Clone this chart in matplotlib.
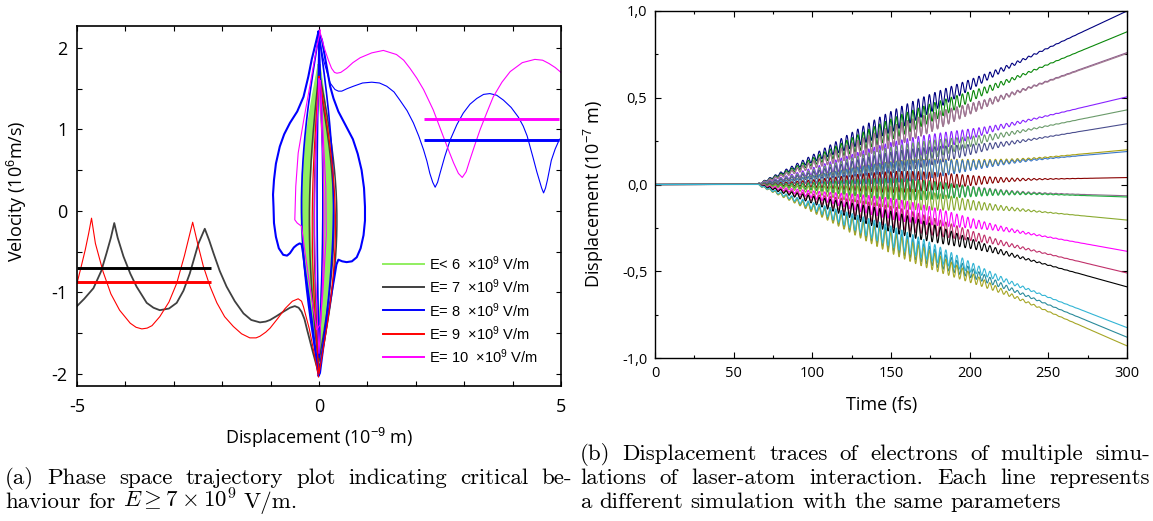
import numpy as np
import matplotlib
matplotlib.use('Agg')
import matplotlib.pyplot as plt
from matplotlib.ticker import MultipleLocator

plt.rcParams['font.family'] = ['Open Sans', 'DejaVu Sans']
plt.rcParams['mathtext.fontset'] = 'custom'
plt.rcParams['mathtext.rm'] = 'Liberation Sans'
plt.rcParams['mathtext.it'] = 'Liberation Sans:italic'
plt.rcParams['mathtext.bf'] = 'Liberation Sans:bold'

W, H = 1153, 521

# ---------------- (a) phase space, x in 1e-9 m, v in 1e6 m/s
black_x = [-5.00, -4.85, -4.66, -4.50, -4.39, -4.30, -4.23, -4.16, -4.04, -3.90, -3.77, -3.56,
           -3.42, -3.29, -3.10, -2.94, -2.80, -2.67, -2.49, -2.36, -2.27, -2.18, -2.05, -1.91,
           -1.74, -1.56, -1.40, -1.22, -1.10, -1.01, -0.87, -0.74, -0.60, -0.50, -0.42, -0.36,
           -0.30, -0.25, -0.12, -0.01]
black_y = [-1.17, -1.08, -0.95, -0.74, -0.52, -0.33, -0.15, -0.33, -0.56, -0.77, -0.93, -1.13,
           -1.19, -1.22, -1.20, -1.13, -0.98, -0.77, -0.40, -0.22, -0.36, -0.52, -0.74, -0.93,
           -1.11, -1.26, -1.34, -1.37, -1.36, -1.34, -1.29, -1.24, -1.19, -1.17, -1.19, -1.24,
           -1.33, -1.45, -1.75, -1.99]

red_x = [-5.00, -4.92, -4.83, -4.76, -4.70, -4.62, -4.46, -4.30, -4.12, -3.90, -3.78, -3.66,
         -3.55, -3.45, -3.29, -3.10, -2.94, -2.78, -2.61, -2.50, -2.39, -2.25, -2.11, -1.95,
         -1.77, -1.60, -1.43, -1.30, -1.22, -1.10, -1.01, -0.85, -0.70, -0.55, -0.43, -0.36,
         -0.32, -0.20, -0.10, -0.01]
red_y = [-0.89, -0.70, -0.48, -0.28, -0.09, -0.40, -0.75, -1.02, -1.22, -1.38, -1.43, -1.45,
         -1.44, -1.41, -1.30, -1.12, -0.89, -0.55, -0.14, -0.42, -0.68, -0.93, -1.13, -1.30,
         -1.42, -1.51, -1.56, -1.56, -1.54, -1.49, -1.44, -1.32, -1.20, -1.11, -1.08, -1.11,
         -1.18, -1.45, -1.75, -2.04]

blue_loop_x = [-0.01, -0.08, -0.15, -0.22, -0.32, -0.45, -0.60, -0.72, -0.81, -0.89, -0.93, -0.95,
               -0.94, -0.93, -0.89, -0.83, -0.74, -0.66, -0.60, -0.52, -0.46, -0.40, -0.36, -0.33,
               -0.29, -0.22, -0.15, -0.08, -0.01, 0.02, 0.09, 0.17, 0.25, 0.33, 0.36, 0.40, 0.48,
               0.57, 0.68, 0.78, 0.86, 0.92, 0.95, 0.95, 0.93, 0.88, 0.80, 0.70, 0.55, 0.40, 0.30,
               0.23, 0.15, 0.06, -0.01]
blue_loop_y = [2.20, 2.03, 1.86, 1.65, 1.40, 1.22, 1.08, 0.94, 0.79, 0.58, 0.38, 0.20,
               0.05, -0.15, -0.32, -0.46, -0.54, -0.55, -0.52, -0.45, -0.42, -0.40, -0.41, -0.52,
               -0.72, -1.02, -1.34, -1.68, -2.03, -1.99, -1.67, -1.34, -1.05, -0.77, -0.66, -0.60,
               -0.62, -0.63, -0.62, -0.57, -0.46, -0.30, -0.12, 0.05, 0.28, 0.50, 0.70, 0.88, 1.05,
               1.22, 1.38, 1.53, 1.80, 2.10, 2.20]

blue_out_x = [-0.01, 0.09, 0.23, 0.33, 0.40, 0.47, 0.58, 0.71, 0.90, 1.09, 1.25, 1.40, 1.55,
              1.67, 1.82, 1.95, 2.06, 2.16, 2.23, 2.29, 2.35, 2.40, 2.45, 2.50, 2.60, 2.71, 2.85,
              2.98, 3.12, 3.26, 3.40, 3.53, 3.67, 3.81, 3.97, 4.12, 4.22, 4.30, 4.42, 4.50, 4.55,
              4.60, 4.64, 4.68, 4.72, 4.80, 4.88, 4.97]
blue_out_y = [2.16, 1.86, 1.57, 1.49, 1.47, 1.47, 1.50, 1.53, 1.57, 1.58, 1.57, 1.53, 1.46,
              1.36, 1.23, 1.08, 0.92, 0.75, 0.61, 0.46, 0.35, 0.29, 0.35, 0.46, 0.67, 0.87, 1.06,
              1.20, 1.31, 1.38, 1.43, 1.44, 1.42, 1.36, 1.27, 1.15, 1.04, 0.92, 0.66, 0.48, 0.38,
              0.28, 0.22, 0.28, 0.38, 0.62, 0.76, 0.88]

mag_out_x = [0.01, 0.12, 0.20, 0.26, 0.32, 0.37, 0.45, 0.57, 0.70, 0.85, 1.09, 1.33, 1.60,
             1.75, 1.88, 2.02, 2.16, 2.36, 2.57, 2.70, 2.78, 2.88, 2.96, 3.04, 3.12, 3.22, 3.33,
             3.47, 3.60, 3.78, 3.95, 4.20, 4.46, 4.62, 4.75, 4.88, 5.00]
mag_out_y = [2.22, 1.98, 1.84, 1.75, 1.70, 1.69, 1.70, 1.75, 1.82, 1.88, 1.94, 1.97, 1.92,
             1.85, 1.75, 1.63, 1.49, 1.24, 0.91, 0.71, 0.59, 0.46, 0.41, 0.48, 0.63, 0.81, 1.00,
             1.21, 1.40, 1.58, 1.71, 1.82, 1.86, 1.85, 1.81, 1.76, 1.70]

mag_in_x = [0.03, -0.05, -0.19, -0.32, -0.43, -0.48, -0.50, -0.45, -0.36, -0.28, -0.17, -0.05,
            0.02, 0.08, 0.15, 0.14, 0.08, 0.03]
mag_in_y = [2.22, 2.00, 1.53, 1.10, 0.71, 0.30, -0.11, -0.15, -0.19, -0.55, -1.00, -1.46,
            -1.40, -1.00, -0.30, 0.30, 1.00, 1.60]

# central lens-shaped orbits: top, bottom, left and right half width
green_top = [1.78, 1.75, 1.72, 1.69, 1.66, 1.63, 1.60, 1.57]
green_bot = [-1.72, -1.69, -1.66, -1.63, -1.60, -1.57, -1.54, -1.50]
green_wl = [0.35, 0.33, 0.31, 0.29, 0.27, 0.25, 0.23, 0.21]
green_wr = [0.27, 0.25, 0.23, 0.21, 0.19, 0.17, 0.15, 0.13]
gray_lens = [(1.72, -1.95, 0.20, 0.37), (1.60, -1.85, 0.10, 0.31)]
blue_lens = [(2.17, -2.02, 0.36, 0.30), (2.10, -1.80, 0.04, 0.08)]
red_lens = [(1.65, -2.00, 0.14, 0.34)]
mag_lens = [(1.62, -1.75, 0.09, 0.10)]

# asymptotic (drift) velocities, thick horizontal lines: level, x start, x end
drift_black = (-0.70, -5.0, -2.24)
drift_red = (-0.88, -5.0, -2.24)
drift_blue = (0.87, 2.17, 4.95)
drift_mag = (1.13, 2.17, 4.95)

legend_labels = [r'E< 6  $\times$10$^{9}$ V/m', r'E= 7  $\times$10$^{9}$ V/m',
                 r'E= 8  $\times$10$^{9}$ V/m', r'E= 9  $\times$10$^{9}$ V/m',
                 r'E= 10  $\times$10$^{9}$ V/m']
legend_colors = ['#90ee60', '#404040', '#0000ff', '#ff0000', '#ff00ff']

a_xticks = [-5, -4, -3, -2, -1, 0, 1, 2, 3, 4, 5]
a_xticklabels = ['-5', '', '', '', '', '0', '', '', '', '', '5']
a_yticks = [-2, -1.5, -1, -0.5, 0, 0.5, 1, 1.5, 2]
a_yticklabels = ['-2', '', '-1', '', '0', '', '1', '', '2']

# ---------------- (b) displacement traces, 1e-7 m at 300 fs
trace_end = [1.00, 0.88, 0.76, 0.755, 0.505, 0.43, 0.35, 0.20, 0.19, 0.04, -0.065, -0.072,
             -0.205, -0.385, -0.51, -0.59, -0.88, -0.93, -0.825]
trace_color = ['#000080', '#0a880a', '#8c5c8c', '#a07890', '#8822ff', '#6a9a6a', '#4a4e8e',
               '#a8a010', '#3c78c8', '#880000', '#8a6a8a', '#20b040', '#8aaa30', '#ff00ff',
               '#c0306a', '#000000', '#2a8a9a', '#a6a626', '#33b5d5']
t_on = 65.0          # fs, start of divergence
pulse_center = 155.0  # fs
pulse_width = 38.0    # fs
quiver = 0.06        # 1e-7 m
laser_period = 3.5   # fs

b_yticks = [-1.0, -0.5, 0.0, 0.5, 1.0]
b_yticklabels = ['-1,0', '-0,5', '0,0', '0,5', '1,0']

cap_a = [(['(a)', 'Phase', 'space', 'trajectory', 'plot', 'indicating', 'critical', 'be-'], True),
         (['haviour', 'for', r'$E \geq 7 \times 10^9$', 'V/m.'], False)]
cap_b = [(['(b)', 'Displacement', 'traces', 'of', 'electrons', 'of', 'multiple', 'simu-'], True),
         (['lations', 'of', 'laser-atom', 'interaction.', 'Each', 'line', 'represents'], True),
         (['a', 'different', 'simulation', 'with', 'the', 'same', 'parameters'], False)]


def lens(top, bottom, wl, wr, n=300):
    u = np.linspace(0, 1, n)
    y = top + (bottom - top) * u
    s = np.sin(np.pi * u)
    return np.concatenate([-wl * s, wr * s[::-1]]), np.concatenate([y, y[::-1]])


fig = plt.figure(figsize=(W / 100, H / 100), dpi=100)

# ================= panel (a)
ax = fig.add_axes([77 / W, 1 - 385.5 / H, 484 / W, 359.5 / H])
for tp, bt, wl, wr in zip(green_top, green_bot, green_wl, green_wr):
    ax.plot(*lens(tp, bt, wl, wr), color=legend_colors[0], lw=2.4)
ax.plot(black_x, black_y, color='#404040', lw=1.3)
for spec in gray_lens:
    ax.plot(*lens(*spec), color='#404040', lw=1.1)
ax.plot(blue_loop_x, blue_loop_y, color='#0000ff', lw=1.5)
for spec in blue_lens:
    ax.plot(*lens(*spec), color='#0000ff', lw=1.2)
ax.plot(blue_out_x, blue_out_y, color='#0000ff', lw=0.8)
ax.plot(red_x, red_y, color='#ff0000', lw=0.8)
for spec in red_lens:
    ax.plot(*lens(*spec), color='#ff0000', lw=0.9)
ax.plot(mag_in_x, mag_in_y, color='#ff00ff', lw=0.8)
for spec in mag_lens:
    ax.plot(*lens(*spec), color='#ff00ff', lw=0.8)
ax.plot(mag_out_x, mag_out_y, color='#ff00ff', lw=0.8)

for lvl, x0, x1, c in [(*drift_black, '#000000'), (*drift_red, '#ff0000'),
                       (*drift_blue, '#0000ff'), (*drift_mag, '#ff00ff')]:
    ax.plot([x0, x1], [lvl, lvl], color=c, lw=2.1, solid_capstyle='butt')

# legend drawn by hand (no frame, matlab style)
for i, (lab, c) in enumerate(zip(legend_labels, legend_colors)):
    yy = 0.338 - i * 0.0645
    ax.plot([0.632, 0.717], [yy, yy], color=c, lw=1.4, transform=ax.transAxes)
    ax.text(0.727, yy, lab, transform=ax.transAxes, va='center', ha='left',
            fontsize=10.5, family=['Liberation Sans', 'DejaVu Sans'])

ax.set_xlim(-5, 5)
ax.set_ylim(-2.145, 2.27)
ax.set_xticks(a_xticks)
ax.set_xticklabels(a_xticklabels)
ax.set_yticks(a_yticks)
ax.set_yticklabels(a_yticklabels)
ax.tick_params(direction='in', top=True, right=True, length=3.6, width=0.8, labelsize=13)
ax.tick_params(axis='x', pad=9)
ax.tick_params(axis='y', pad=7)
for sp in ax.spines.values():
    sp.set_linewidth(1.2)
ax.set_xlabel(r'Displacement (10$^{-9}$ m)', fontsize=13)
ax.set_ylabel(r'Velocity (10$^{6}$m/s)', fontsize=13)
ax.xaxis.set_label_coords(0.5, -0.112)
ax.yaxis.set_label_coords(-0.1, 0.54)

# ================= panel (b)
bx = fig.add_axes([655 / W, 1 - 358 / H, 472 / W, 347 / H])
t = np.linspace(0, 300, 8001)
since = np.clip(t - t_on, 0, None)
env = np.where(t > t_on, quiver * np.exp(-0.5 * ((t - pulse_center) / pulse_width) ** 2), 0.0)
for end, c in zip(trace_end, trace_color):
    disp = end * since / (300 - t_on) + env * np.sin(2 * np.pi * since / laser_period)
    bx.plot(t, disp, color=c, lw=0.8)

bx.set_xlim(0, 300)
bx.set_ylim(-1, 1)
bx.xaxis.set_major_locator(MultipleLocator(50))
bx.xaxis.set_minor_locator(MultipleLocator(25))
bx.set_yticks(b_yticks)
bx.set_yticklabels(b_yticklabels)
bx.yaxis.set_minor_locator(MultipleLocator(0.25))
bx.tick_params(which='both', direction='in', top=True, right=True, width=0.8, labelsize=10.5)
bx.tick_params(which='major', length=4.3)
bx.tick_params(which='minor', length=2.5)
bx.tick_params(axis='x', pad=6)
bx.tick_params(axis='y', pad=5.5)
for sp in bx.spines.values():
    sp.set_linewidth(1.0)
bx.set_xlabel('Time (fs)', fontsize=13)
bx.set_ylabel(r'Displacement (10$^{-7}$ m)', fontsize=13)
bx.xaxis.set_label_coords(0.48, -0.11)
bx.yaxis.set_label_coords(-0.104, 0.473)

# ================= captions (justified like the LaTeX source)
renderer = fig.canvas.get_renderer()
CAP_SIZE = 16.5
space_px = 0.333 * CAP_SIZE * 100 / 72


def caption(lines, x0, x1, y0, step=24):
    for k, (words, justify) in enumerate(lines):
        arts = [fig.text(0, 0, w, fontsize=CAP_SIZE, family=['cmr10', 'DejaVu Serif'],
                         math_fontfamily='cm', va='baseline', ha='left') for w in words]
        widths = [a.get_window_extent(renderer).width for a in arts]
        gap = (x1 - x0 - sum(widths)) / (len(words) - 1) if justify else space_px
        x = x0
        for a, w in zip(arts, widths):
            a.set_position((x / W, 1 - (y0 + k * step) / H))
            x += w + gap


caption(cap_a, 5, 572, 484)
caption(cap_b, 580, 1150, 460)

fig.savefig('out.png', dpi=100)
